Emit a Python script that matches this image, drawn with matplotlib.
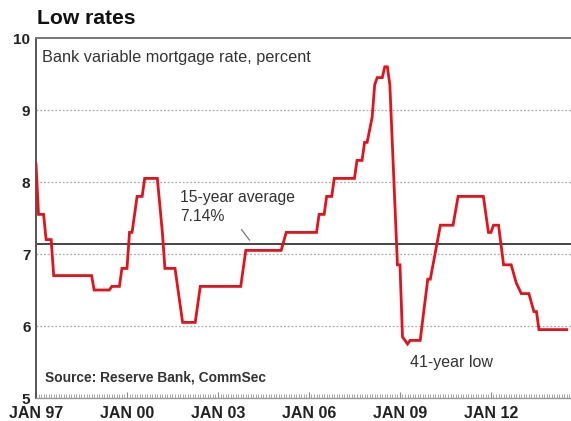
import matplotlib
matplotlib.use("Agg")
import matplotlib.pyplot as plt
from matplotlib.ticker import MultipleLocator, FixedLocator

plt.rcParams['font.family'] = ['Liberation Sans', 'DejaVu Sans']

# Bank standard variable mortgage rate, month by month where it changes
months = ["1997-01", "1997-02", "1997-04", "1997-05", "1997-07", "1997-08",
          "1998-11", "1998-12", "1999-06", "1999-07", "1999-10", "1999-11",
          "2000-01", "2000-02", "2000-03", "2000-05", "2000-07", "2000-08",
          "2001-01", "2001-03", "2001-04", "2001-08", "2001-10", "2001-11",
          "2002-04", "2002-06", "2003-10", "2003-12", "2005-02", "2005-04",
          "2006-04", "2006-05", "2006-07", "2006-08", "2006-10", "2006-11",
          "2007-07", "2007-08", "2007-10", "2007-11", "2007-12", "2008-02",
          "2008-03", "2008-04", "2008-06", "2008-07", "2008-08", "2008-09",
          "2008-12", "2009-01", "2009-02", "2009-04", "2009-05", "2009-09",
          "2009-12", "2010-01", "2010-05", "2010-10", "2010-12", "2011-10",
          "2011-12", "2012-01", "2012-02", "2012-04", "2012-06", "2012-09",
          "2012-11", "2013-01", "2013-04", "2013-06", "2013-07", "2013-08",
          "2014-07"]
rates = [8.25, 7.55, 7.55, 7.20, 7.20, 6.70,
         6.70, 6.50, 6.50, 6.55, 6.55, 6.80,
         6.80, 7.30, 7.30, 7.80, 7.80, 8.05,
         8.05, 7.30, 6.80, 6.80, 6.30, 6.05,
         6.05, 6.55, 6.55, 7.05, 7.05, 7.30,
         7.30, 7.55, 7.55, 7.80, 7.80, 8.05,
         8.05, 8.30, 8.30, 8.55, 8.55, 8.90,
         9.35, 9.45, 9.45, 9.60, 9.60, 9.35,
         6.85, 6.85, 5.85, 5.75, 5.80, 5.80,
         6.65, 6.65, 7.40, 7.40, 7.80, 7.80,
         7.30, 7.30, 7.40, 7.40, 6.85, 6.85,
         6.60, 6.45, 6.45, 6.20, 6.20, 5.95,
         5.95]
average = 7.14

tick_years = [1997, 2000, 2003, 2006, 2009, 2012]
tick_labels = ["JAN 97", "JAN 00", "JAN 03", "JAN 06", "JAN 09", "JAN 12"]
y_ticks = [5, 6, 7, 8, 9, 10]

# month strings -> decimal years
x = [int(m[:4]) + (int(m[5:]) - 1) / 12 for m in months]

fig = plt.figure(figsize=(5.71, 4.21), dpi=100)
ax = fig.add_axes([36 / 571, 1 - 398 / 421, 535 / 571, 360 / 421])

ax.set_xlim(1997, 1997 + 535 / 30.33)
ax.set_ylim(5, 10)

for v in y_ticks[1:-1]:
    ax.axhline(v, color='#aaaaaa', lw=0.9, ls=(0, (1.5, 1.5)), zorder=1)
ax.axhline(average, color='#444444', lw=1.4, zorder=2)

ax.plot(x, rates, color='#e3121b', lw=2.0, zorder=3, solid_joinstyle='miter')

# axes frame
ax.spines['right'].set_visible(False)
ax.spines['left'].set_color('#555555')
ax.spines['left'].set_linewidth(1.4)
ax.spines['top'].set_color('#777777')
ax.spines['top'].set_linewidth(1.4)
ax.spines['bottom'].set_color('#999999')
ax.spines['bottom'].set_linewidth(1.0)

ax.set_yticks(y_ticks)
ax.set_yticklabels([str(v) for v in y_ticks], fontsize=11, fontweight='bold', color='#222222')
ax.tick_params(axis='y', length=0, pad=4)

ax.xaxis.set_major_locator(FixedLocator(tick_years))
ax.set_xticklabels(tick_labels, fontsize=11.5, fontweight='bold', color='#222222')
ax.xaxis.set_minor_locator(MultipleLocator(1 / 12))
ax.tick_params(axis='x', which='major', direction='in', length=4, color='#888888', pad=6)
ax.tick_params(axis='x', which='minor', direction='in', length=3, width=0.6, color='#999999')

ax.text(0.011, 0.947, "Bank variable mortgage rate, percent", transform=ax.transAxes,
        fontsize=11.7, color='#333333', va='center', ha='left')
ax.text(0.017, 0.058, "Source: Reserve Bank, CommSec", transform=ax.transAxes,
        fontsize=9.9, fontweight='bold', color='#333333', va='center', ha='left')

ax.text(2001.75, 7.65, "15-year average\n7.14%", fontsize=11.3, color='#333333',
        va='center', ha='left', linespacing=1.3)
ax.annotate("", xy=(2004.1, 7.16), xytext=(2003.72, 7.37),
            arrowprops=dict(arrowstyle='-', color='#777777', lw=0.9))
ax.text(2010.7, 5.49, "41-year low", fontsize=11.5, color='#333333',
        va='center', ha='center')

fig.text(37 / 571, 1 - 18 / 421, "Low rates", fontsize=15.2, fontweight='bold',
         color='#111111', va='center', ha='left')

fig.savefig("out.png", dpi=100)
